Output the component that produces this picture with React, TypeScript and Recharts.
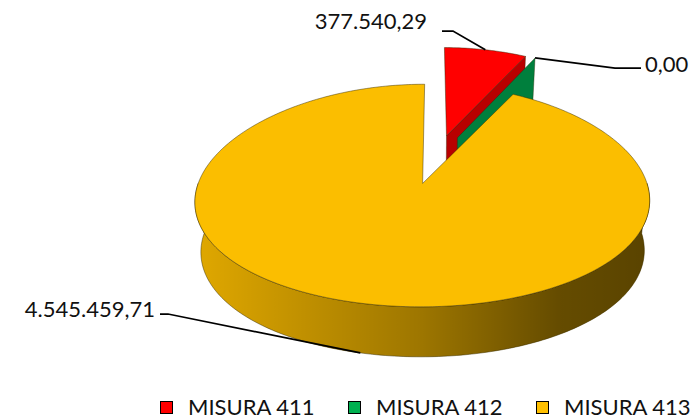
import React from 'react';
import { PieChart, Pie, Legend } from 'recharts';

// data
const NAMES = ['MISURA 411', 'MISURA 412', 'MISURA 413'];
const VALUES = [377540.29, 0, 4545459.71];

// colours: top face, radial/side faces, legend swatch
const TOP_COLORS = ['#FF0000', '#00B050', '#FBBE00'];
const SIDE_COLORS = ['#B80000', '#007F3D', '#E0A800'];
const LEGEND_COLORS = ['#FF0000', '#00B050', '#FFC000'];

// label placement (text anchor + leader elbow), one per slice
const LABEL_LAYOUT = [
  { tx: 427, ty: 29, anchor: 'end', elbow: [[453, 31], [442, 31]] },
  { tx: 645, ty: 72, anchor: 'start', elbow: [[615, 68], [641, 68]] },
  { tx: 155, ty: 317, anchor: 'end', elbow: [[168, 314], [160, 314]] },
];

const FONT = 'Lato, "Liberation Sans", Arial, sans-serif';

// pseudo 3D projection settings
const RADIAN = Math.PI / 180;
const EXPLODE = 50;
const DEPTH = 50;
const TILT = 0.49;
const BULGE = 0.00026;
const PERSP = 0.0008;
const SHRINK = 0.0005;

// flat sectors are left unfilled, the 3D slab is drawn from the sector geometry
const pieData = NAMES.map((name, i) => ({
  name,
  value: VALUES[i],
  fill: 'none',
  top: TOP_COLORS[i],
  side: SIDE_COLORS[i],
}));

const formatIt = (v: number) => {
  const [int, dec] = v.toFixed(2).split('.');
  return int.replace(/\B(?=(\d{3})+(?!\d))/g, '.') + ',' + dec;
};

// flat pie coords (u to the right, w towards viewer) -> screen
const project = (cx: number, cy: number, u: number, w: number, h = 0) => ({
  x: cx + u * (1 + PERSP * w) * (1 - SHRINK * h),
  y: cy + TILT * w + BULGE * w * w + h,
});

const sliceGeom = (p: any) => {
  const { cx, cy, startAngle, endAngle } = p;
  const mid = (startAngle + endAngle) / 2;
  const ou = EXPLODE * Math.cos(mid * RADIAN);
  const ow = -EXPLODE * Math.sin(mid * RADIAN);
  const at = (a: number, r: number, h = 0) =>
    project(cx, cy, ou + r * Math.cos(a * RADIAN), ow - r * Math.sin(a * RADIAN), h);
  return { at, mid, ow };
};

const poly = (pts: { x: number; y: number }[]) =>
  'M' + pts.map((p) => `${p.x.toFixed(2)},${p.y.toFixed(2)}`).join('L') + 'Z';

const arcAngles = (a0: number, a1: number) => {
  const n = Math.max(1, Math.ceil(Math.abs(a1 - a0)));
  return Array.from({ length: n + 1 }, (_, i) => a0 + ((a1 - a0) * i) / n);
};

const EDGE = 'rgba(45,35,0,0.75)';

const renderSlab = (props: any) => {
  const { startAngle, endAngle, outerRadius: r, payload, index } = props;
  const top = payload?.top ?? TOP_COLORS[index];
  const side = payload?.side ?? SIDE_COLORS[index];
  const id = 'wall-' + index;
  const { at } = sliceGeom(props);
  const parts: React.ReactNode[] = [];

  const face = (a: number) => poly([at(a, 0), at(a, r), at(a, r, DEPTH), at(a, 0, DEPTH)]);
  if (Math.cos(startAngle * RADIAN) < -1e-6) {
    parts.push(<path key="fs" d={face(startAngle)} fill={side} stroke={EDGE} strokeWidth={0.5} />);
  }
  if (Math.cos(endAngle * RADIAN) > 1e-6) {
    parts.push(<path key="fe" d={face(endAngle)} fill={side} stroke={EDGE} strokeWidth={0.5} />);
  }

  // front wall (where the rim faces the viewer)
  const lo = Math.min(startAngle, endAngle);
  const hi = Math.max(startAngle, endAngle);
  for (let k = -2; k <= 1; k++) {
    const a0 = Math.max(lo, -180 + 360 * k);
    const a1 = Math.min(hi, 360 * k);
    if (a1 - a0 > 0.01) {
      const angs = arcAngles(a1, a0);
      const pts = [...angs.map((a) => at(a, r)), ...[...angs].reverse().map((a) => at(a, r, DEPTH))];
      parts.push(<path key={'w' + k} d={poly(pts)} fill={side} />);
      parts.push(<path key={'ws' + k} d={poly(pts)} fill={`url(#${id})`} stroke={EDGE} strokeWidth={0.6} />);
    }
  }

  if (hi - lo > 0.01) {
    const face2 = [at(0, 0), ...arcAngles(startAngle, endAngle).map((a) => at(a, r))];
    parts.push(<path key="t" d={poly(face2)} fill={top} stroke={EDGE} strokeWidth={0.6} />);
  }

  return (
    <g>
      <defs>
        <linearGradient id={id} x1="0" y1="0" x2="1" y2="0">
          <stop offset="0" stopColor="#000" stopOpacity={0} />
          <stop offset="0.5" stopColor="#000" stopOpacity={0.3} />
          <stop offset="0.8" stopColor="#000" stopOpacity={0.55} />
          <stop offset="1" stopColor="#000" stopOpacity={0.6} />
        </linearGradient>
      </defs>
      {parts}
    </g>
  );
};

const renderLabel = (props: any) => {
  const { index, outerRadius: r, value } = props;
  const lay = LABEL_LAYOUT[index];
  const { at, mid, ow } = sliceGeom(props);
  const front = ow - r * Math.sin(mid * RADIAN) > 0;
  const p = at(mid, r, front ? DEPTH : 0);
  const pts = lay ? [[p.x, p.y], ...lay.elbow] : [];
  return (
    <g>
      {renderSlab(props)}
      {lay && (
        <>
          <polyline
            points={pts.map((q) => q.join(',')).join(' ')}
            fill="none"
            stroke="#000"
            strokeWidth={1.75}
          />
          <text
            x={lay.tx}
            y={lay.ty}
            textAnchor={lay.anchor as any}
            fontFamily={FONT}
            fontSize={22}
            fill="#111"
          >
            {formatIt(value)}
          </text>
        </>
      )}
    </g>
  );
};

const renderLegend = (props: any) => {
  const { payload = [] } = props;
  return (
    <div
      style={{
        display: 'flex',
        paddingLeft: 160,
        whiteSpace: 'nowrap',
        fontFamily: FONT,
        fontSize: 22,
        lineHeight: '22px',
        color: '#111',
      }}
    >
      {payload.map((entry: any, i: number) => (
        <div key={entry.value} style={{ display: 'flex', alignItems: 'center', width: 188, flexShrink: 0 }}>
          <span
            style={{
              display: 'inline-block',
              width: 11,
              height: 11,
              border: '1.5px solid #000',
              background: LEGEND_COLORS[i],
              marginRight: 15,
            }}
          />
          {entry.value}
        </div>
      ))}
    </div>
  );
};

const App: React.FC = () => {
  return (
    <div
      style={{
        position: 'absolute',
        left: 0,
        top: 0,
        width: 696,
        height: 419,
        overflow: 'hidden',
        background: '#fff',
      }}
    >
      <PieChart width={696} height={419} margin={{ top: 0, right: 0, bottom: 0, left: 0 }}>
        <Pie
          data={pieData}
          dataKey="value"
          nameKey="name"
          cx={435}
          cy={159}
          outerRadius={216}
          startAngle={90}
          endAngle={-270}
          stroke="none"
          label={renderLabel}
          labelLine={false}
          isAnimationActive={false}
        />
        <Legend
          content={renderLegend}
          wrapperStyle={{ left: 0, top: 396, width: 696, height: 22 }}
        />
      </PieChart>
    </div>
  );
};

export default App;
